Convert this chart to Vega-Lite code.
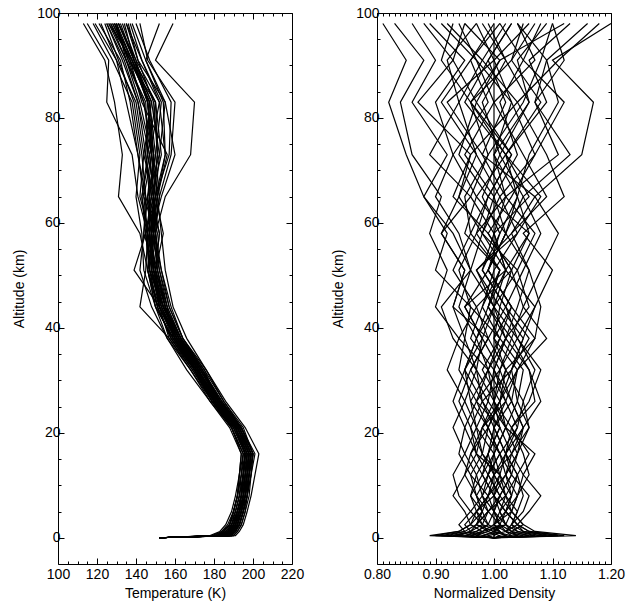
{
"$schema": "https://vega.github.io/schema/vega-lite/v6.json",
"padding": {"left": 12, "top": 6, "right": 5, "bottom": 5},
"background": "white",
"config": {"view": {"stroke": null}, "font": "Liberation Sans",
 "axis": {"domainColor": "black", "domainWidth": 1, "tickColor": "black", "tickWidth": 1, "labelColor": "black", "titleColor": "black", "labelFont": "Liberation Sans", "titleFont": "Liberation Sans", "labelFontSize": 14, "titleFontSize": 14, "titleFontWeight": "normal", "grid": false, "labelOverlap": false, "labelFlush": false}},
"data": {"values": [
{"p":1,"a":0,"t":152,"d":1},{"p":1,"a":0.4,"t":186,"d":1},{"p":1,"a":1.2,"t":188,"d":1},{"p":1,"a":2.5,"t":191,"d":1},{"p":1,"a":5,"t":193,"d":1},{"p":1,"a":8,"t":195,"d":1},{"p":1,"a":12,"t":196,"d":1},{"p":1,"a":16,"t":198,"d":1},{"p":1,"a":21,"t":192,"d":1},{"p":1,"a":26,"t":181,"d":1},{"p":1,"a":32,"t":172,"d":1},{"p":1,"a":38,"t":161,"d":1},{"p":1,"a":44,"t":153,"d":1},{"p":1,"a":51,"t":148,"d":1},{"p":1,"a":58,"t":147,"d":1},{"p":1,"a":65,"t":147,"d":1},{"p":1,"a":73,"t":149,"d":1},{"p":1,"a":83,"t":147,"d":1},{"p":1,"a":91,"t":137,"d":1},{"p":1,"a":98,"t":128,"d":1},
{"p":2,"a":0,"t":152,"d":1},{"p":2,"a":0.4,"t":189,"d":1.06},{"p":2,"a":1.2,"t":191,"d":1.03},{"p":2,"a":2.5,"t":193,"d":1.02},{"p":2,"a":5,"t":195,"d":1.01},{"p":2,"a":8,"t":197,"d":1.03},{"p":2,"a":12,"t":198,"d":1.04},{"p":2,"a":16,"t":200,"d":1.02},{"p":2,"a":21,"t":194,"d":1.00},{"p":2,"a":26,"t":183,"d":0.98},{"p":2,"a":32,"t":174,"d":1.03},{"p":2,"a":38,"t":162,"d":1.05},{"p":2,"a":44,"t":155,"d":1.01},{"p":2,"a":51,"t":151,"d":0.97},{"p":2,"a":58,"t":146,"d":1.04},{"p":2,"a":65,"t":150,"d":1.08},{"p":2,"a":73,"t":155,"d":1.02},{"p":2,"a":83,"t":152,"d":0.96},{"p":2,"a":91,"t":140,"d":1.03},{"p":2,"a":98,"t":131,"d":1.07},
{"p":3,"a":0,"t":152,"d":1},{"p":3,"a":0.4,"t":181,"d":0.93},{"p":3,"a":1.2,"t":185,"d":0.96},{"p":3,"a":2.5,"t":188,"d":0.97},{"p":3,"a":5,"t":190,"d":0.99},{"p":3,"a":8,"t":192,"d":0.97},{"p":3,"a":12,"t":194,"d":0.95},{"p":3,"a":16,"t":195,"d":0.96},{"p":3,"a":21,"t":189,"d":0.98},{"p":3,"a":26,"t":179,"d":1.02},{"p":3,"a":32,"t":170,"d":0.99},{"p":3,"a":38,"t":158,"d":0.94},{"p":3,"a":44,"t":151,"d":0.97},{"p":3,"a":51,"t":146,"d":1.03},{"p":3,"a":58,"t":150,"d":0.99},{"p":3,"a":65,"t":144,"d":0.93},{"p":3,"a":73,"t":141,"d":0.96},{"p":3,"a":83,"t":137,"d":1.04},{"p":3,"a":91,"t":132,"d":0.98},{"p":3,"a":98,"t":121,"d":0.92},
{"p":4,"a":0,"t":152,"d":1},{"p":4,"a":0.4,"t":187,"d":1.02},{"p":4,"a":1.2,"t":189,"d":1.01},{"p":4,"a":2.5,"t":192,"d":0.98},{"p":4,"a":5,"t":194,"d":0.97},{"p":4,"a":8,"t":196,"d":0.99},{"p":4,"a":12,"t":197,"d":1.02},{"p":4,"a":16,"t":199,"d":1.04},{"p":4,"a":21,"t":193,"d":1.05},{"p":4,"a":26,"t":183,"d":1.03},{"p":4,"a":32,"t":171,"d":1.00},{"p":4,"a":38,"t":159,"d":1.02},{"p":4,"a":44,"t":156,"d":1.06},{"p":4,"a":51,"t":150,"d":1.04},{"p":4,"a":58,"t":152,"d":0.98},{"p":4,"a":65,"t":148,"d":1.01},{"p":4,"a":73,"t":153,"d":1.07},{"p":4,"a":83,"t":150,"d":1.12},{"p":4,"a":91,"t":139,"d":1.05},{"p":4,"a":98,"t":134,"d":1.01},
{"p":5,"a":0,"t":152,"d":1},{"p":5,"a":0.4,"t":178,"d":0.90},{"p":5,"a":1.2,"t":183,"d":0.94},{"p":5,"a":2.5,"t":186,"d":0.96},{"p":5,"a":5,"t":189,"d":0.95},{"p":5,"a":8,"t":191,"d":0.93},{"p":5,"a":12,"t":193,"d":0.95},{"p":5,"a":16,"t":194,"d":0.97},{"p":5,"a":21,"t":189,"d":0.96},{"p":5,"a":26,"t":180,"d":0.94},{"p":5,"a":32,"t":169,"d":0.96},{"p":5,"a":38,"t":157,"d":0.99},{"p":5,"a":44,"t":152,"d":0.93},{"p":5,"a":51,"t":139,"d":0.95},{"p":5,"a":58,"t":145,"d":0.91},{"p":5,"a":65,"t":143,"d":0.96},{"p":5,"a":73,"t":146,"d":0.89},{"p":5,"a":83,"t":145,"d":0.94},{"p":5,"a":91,"t":135,"d":0.92},{"p":5,"a":98,"t":126,"d":0.97},
{"p":6,"a":0,"t":152,"d":1},{"p":6,"a":0.4,"t":191,"d":1.14},{"p":6,"a":1.2,"t":193,"d":1.07},{"p":6,"a":2.5,"t":195,"d":1.05},{"p":6,"a":5,"t":197,"d":1.03},{"p":6,"a":8,"t":199,"d":1.04},{"p":6,"a":12,"t":201,"d":1.06},{"p":6,"a":16,"t":203,"d":1.05},{"p":6,"a":21,"t":196,"d":1.03},{"p":6,"a":26,"t":186,"d":1.06},{"p":6,"a":32,"t":176,"d":1.08},{"p":6,"a":38,"t":164,"d":1.04},{"p":6,"a":44,"t":157,"d":1.07},{"p":6,"a":51,"t":153,"d":1.10},{"p":6,"a":58,"t":149,"d":1.05},{"p":6,"a":65,"t":152,"d":1.12},{"p":6,"a":73,"t":158,"d":1.09},{"p":6,"a":83,"t":160,"d":1.04},{"p":6,"a":91,"t":146,"d":1.11},{"p":6,"a":98,"t":142,"d":1.18},
{"p":7,"a":0,"t":152,"d":1},{"p":7,"a":0.4,"t":185,"d":0.97},{"p":7,"a":1.2,"t":188,"d":0.99},{"p":7,"a":2.5,"t":190,"d":1.01},{"p":7,"a":5,"t":192,"d":1.02},{"p":7,"a":8,"t":194,"d":1.00},{"p":7,"a":12,"t":195,"d":0.98},{"p":7,"a":16,"t":196,"d":0.99},{"p":7,"a":21,"t":190,"d":1.01},{"p":7,"a":26,"t":180,"d":0.97},{"p":7,"a":32,"t":172,"d":1.01},{"p":7,"a":38,"t":162,"d":0.98},{"p":7,"a":44,"t":154,"d":0.95},{"p":7,"a":51,"t":149,"d":1.02},{"p":7,"a":58,"t":151,"d":1.06},{"p":7,"a":65,"t":147,"d":0.99},{"p":7,"a":73,"t":145,"d":1.03},{"p":7,"a":83,"t":141,"d":0.97},{"p":7,"a":91,"t":133,"d":1.01},{"p":7,"a":98,"t":125,"d":0.95},
{"p":8,"a":0,"t":152,"d":1},{"p":8,"a":0.4,"t":183,"d":1.09},{"p":8,"a":1.2,"t":187,"d":1.05},{"p":8,"a":2.5,"t":190,"d":1.03},{"p":8,"a":5,"t":193,"d":1.05},{"p":8,"a":8,"t":195,"d":1.06},{"p":8,"a":12,"t":197,"d":1.03},{"p":8,"a":16,"t":198,"d":1.01},{"p":8,"a":21,"t":192,"d":1.04},{"p":8,"a":26,"t":182,"d":1.05},{"p":8,"a":32,"t":173,"d":1.02},{"p":8,"a":38,"t":163,"d":1.07},{"p":8,"a":44,"t":155,"d":1.03},{"p":8,"a":51,"t":150,"d":0.99},{"p":8,"a":58,"t":154,"d":1.02},{"p":8,"a":65,"t":150,"d":1.05},{"p":8,"a":73,"t":152,"d":1.13},{"p":8,"a":83,"t":155,"d":1.07},{"p":8,"a":91,"t":141,"d":1.09},{"p":8,"a":98,"t":136,"d":1.04},
{"p":9,"a":0,"t":152,"d":1},{"p":9,"a":0.4,"t":188,"d":0.95},{"p":9,"a":1.2,"t":190,"d":0.97},{"p":9,"a":2.5,"t":192,"d":0.99},{"p":9,"a":5,"t":194,"d":1.00},{"p":9,"a":8,"t":195,"d":1.01},{"p":9,"a":12,"t":196,"d":0.99},{"p":9,"a":16,"t":197,"d":0.97},{"p":9,"a":21,"t":191,"d":0.98},{"p":9,"a":26,"t":180,"d":1.00},{"p":9,"a":32,"t":170,"d":0.97},{"p":9,"a":38,"t":159,"d":0.93},{"p":9,"a":44,"t":150,"d":0.91},{"p":9,"a":51,"t":144,"d":0.96},{"p":9,"a":58,"t":143,"d":0.93},{"p":9,"a":65,"t":140,"d":0.88},{"p":9,"a":73,"t":142,"d":0.92},{"p":9,"a":83,"t":138,"d":0.86},{"p":9,"a":91,"t":128,"d":0.90},{"p":9,"a":98,"t":118,"d":0.86},
{"p":10,"a":0,"t":152,"d":1},{"p":10,"a":0.4,"t":184,"d":1.04},{"p":10,"a":1.2,"t":187,"d":1.02},{"p":10,"a":2.5,"t":189,"d":1.03},{"p":10,"a":5,"t":191,"d":1.04},{"p":10,"a":8,"t":193,"d":1.02},{"p":10,"a":12,"t":195,"d":1.00},{"p":10,"a":16,"t":196,"d":1.03},{"p":10,"a":21,"t":191,"d":1.06},{"p":10,"a":26,"t":181,"d":1.04},{"p":10,"a":32,"t":171,"d":1.05},{"p":10,"a":38,"t":161,"d":1.01},{"p":10,"a":44,"t":154,"d":0.98},{"p":10,"a":51,"t":149,"d":1.01},{"p":10,"a":58,"t":147,"d":0.97},{"p":10,"a":65,"t":146,"d":1.02},{"p":10,"a":73,"t":150,"d":0.98},{"p":10,"a":83,"t":147,"d":1.02},{"p":10,"a":91,"t":138,"d":0.99},{"p":10,"a":98,"t":130,"d":1.03},
{"p":11,"a":0,"t":152,"d":1},{"p":11,"a":0.4,"t":190,"d":1.11},{"p":11,"a":1.2,"t":192,"d":1.06},{"p":11,"a":2.5,"t":194,"d":1.04},{"p":11,"a":5,"t":196,"d":1.06},{"p":11,"a":8,"t":198,"d":1.08},{"p":11,"a":12,"t":199,"d":1.05},{"p":11,"a":16,"t":201,"d":1.07},{"p":11,"a":21,"t":194,"d":1.02},{"p":11,"a":26,"t":184,"d":1.01},{"p":11,"a":32,"t":174,"d":1.04},{"p":11,"a":38,"t":163,"d":1.09},{"p":11,"a":44,"t":156,"d":1.05},{"p":11,"a":51,"t":152,"d":1.08},{"p":11,"a":58,"t":150,"d":1.11},{"p":11,"a":65,"t":155,"d":1.07},{"p":11,"a":73,"t":168,"d":1.15},{"p":11,"a":83,"t":170,"d":1.17},{"p":11,"a":91,"t":150,"d":1.10},{"p":11,"a":98,"t":159,"d":1.20},
{"p":12,"a":0,"t":152,"d":1},{"p":12,"a":0.4,"t":180,"d":0.92},{"p":12,"a":1.2,"t":184,"d":0.95},{"p":12,"a":2.5,"t":187,"d":0.94},{"p":12,"a":5,"t":190,"d":0.96},{"p":12,"a":8,"t":192,"d":0.94},{"p":12,"a":12,"t":193,"d":0.93},{"p":12,"a":16,"t":194,"d":0.95},{"p":12,"a":21,"t":188,"d":0.93},{"p":12,"a":26,"t":178,"d":0.95},{"p":12,"a":32,"t":168,"d":0.92},{"p":12,"a":38,"t":157,"d":0.94},{"p":12,"a":44,"t":142,"d":0.90},{"p":12,"a":51,"t":145,"d":0.92},{"p":12,"a":58,"t":146,"d":0.89},{"p":12,"a":65,"t":141,"d":0.91},{"p":12,"a":73,"t":138,"d":0.86},{"p":12,"a":83,"t":125,"d":0.84},{"p":12,"a":91,"t":126,"d":0.88},{"p":12,"a":98,"t":115,"d":0.83},
{"p":13,"a":0,"t":152,"d":1},{"p":13,"a":0.4,"t":186,"d":1.00},{"p":13,"a":1.2,"t":189,"d":1.01},{"p":13,"a":2.5,"t":191,"d":0.99},{"p":13,"a":5,"t":193,"d":0.98},{"p":13,"a":8,"t":196,"d":0.97},{"p":13,"a":12,"t":197,"d":0.99},{"p":13,"a":16,"t":198,"d":1.00},{"p":13,"a":21,"t":192,"d":1.02},{"p":13,"a":26,"t":182,"d":0.99},{"p":13,"a":32,"t":171,"d":0.96},{"p":13,"a":38,"t":160,"d":0.99},{"p":13,"a":44,"t":152,"d":1.02},{"p":13,"a":51,"t":148,"d":0.98},{"p":13,"a":58,"t":149,"d":1.00},{"p":13,"a":65,"t":151,"d":0.96},{"p":13,"a":73,"t":156,"d":0.99},{"p":13,"a":83,"t":143,"d":1.05},{"p":13,"a":91,"t":137,"d":1.08},{"p":13,"a":98,"t":127,"d":1.10},
{"p":14,"a":0,"t":152,"d":1},{"p":14,"a":0.4,"t":182,"d":1.06},{"p":14,"a":1.2,"t":186,"d":1.03},{"p":14,"a":2.5,"t":189,"d":1.05},{"p":14,"a":5,"t":192,"d":1.03},{"p":14,"a":8,"t":194,"d":1.02},{"p":14,"a":12,"t":196,"d":1.04},{"p":14,"a":16,"t":197,"d":1.06},{"p":14,"a":21,"t":192,"d":1.03},{"p":14,"a":26,"t":182,"d":1.07},{"p":14,"a":32,"t":175,"d":1.06},{"p":14,"a":38,"t":163,"d":1.03},{"p":14,"a":44,"t":154,"d":1.05},{"p":14,"a":51,"t":149,"d":1.03},{"p":14,"a":58,"t":148,"d":1.06},{"p":14,"a":65,"t":149,"d":1.04},{"p":14,"a":73,"t":151,"d":1.02},{"p":14,"a":83,"t":150,"d":1.09},{"p":14,"a":91,"t":139,"d":1.06},{"p":14,"a":98,"t":131,"d":1.13},
{"p":15,"a":0,"t":152,"d":1},{"p":15,"a":0.4,"t":189,"d":0.94},{"p":15,"a":1.2,"t":191,"d":0.96},{"p":15,"a":2.5,"t":193,"d":0.98},{"p":15,"a":5,"t":195,"d":0.96},{"p":15,"a":8,"t":196,"d":0.98},{"p":15,"a":12,"t":198,"d":0.97},{"p":15,"a":16,"t":199,"d":0.95},{"p":15,"a":21,"t":193,"d":0.97},{"p":15,"a":26,"t":183,"d":0.96},{"p":15,"a":32,"t":173,"d":0.99},{"p":15,"a":38,"t":162,"d":1.01},{"p":15,"a":44,"t":154,"d":0.96},{"p":15,"a":51,"t":147,"d":0.94},{"p":15,"a":58,"t":146,"d":0.97},{"p":15,"a":65,"t":144,"d":0.99},{"p":15,"a":73,"t":148,"d":0.94},{"p":15,"a":83,"t":144,"d":0.97},{"p":15,"a":91,"t":136,"d":0.93},{"p":15,"a":98,"t":129,"d":0.95},
{"p":16,"a":0,"t":152,"d":1},{"p":16,"a":0.4,"t":187,"d":1.08},{"p":16,"a":1.2,"t":189,"d":1.04},{"p":16,"a":2.5,"t":191,"d":1.02},{"p":16,"a":5,"t":193,"d":1.01},{"p":16,"a":8,"t":194,"d":1.00},{"p":16,"a":12,"t":195,"d":1.02},{"p":16,"a":16,"t":196,"d":1.01},{"p":16,"a":21,"t":190,"d":0.99},{"p":16,"a":26,"t":179,"d":1.01},{"p":16,"a":32,"t":168,"d":1.03},{"p":16,"a":38,"t":156,"d":1.06},{"p":16,"a":44,"t":148,"d":1.02},{"p":16,"a":51,"t":142,"d":1.05},{"p":16,"a":58,"t":144,"d":1.08},{"p":16,"a":65,"t":146,"d":1.05},{"p":16,"a":73,"t":152,"d":1.01},{"p":16,"a":83,"t":148,"d":1.06},{"p":16,"a":91,"t":139,"d":1.04},{"p":16,"a":98,"t":131,"d":1.09},
{"p":17,"a":0,"t":152,"d":1},{"p":17,"a":0.4,"t":185,"d":0.96},{"p":17,"a":1.2,"t":188,"d":0.98},{"p":17,"a":2.5,"t":191,"d":1.00},{"p":17,"a":5,"t":193,"d":1.02},{"p":17,"a":8,"t":195,"d":1.03},{"p":17,"a":12,"t":197,"d":1.01},{"p":17,"a":16,"t":198,"d":0.98},{"p":17,"a":21,"t":193,"d":0.96},{"p":17,"a":26,"t":184,"d":0.98},{"p":17,"a":32,"t":174,"d":0.95},{"p":17,"a":38,"t":163,"d":0.97},{"p":17,"a":44,"t":156,"d":0.99},{"p":17,"a":51,"t":151,"d":1.01},{"p":17,"a":58,"t":150,"d":0.95},{"p":17,"a":65,"t":149,"d":0.97},{"p":17,"a":73,"t":151,"d":0.93},{"p":17,"a":83,"t":149,"d":0.99},{"p":17,"a":91,"t":141,"d":0.96},{"p":17,"a":98,"t":135,"d":1.00},
{"p":18,"a":0,"t":152,"d":1},{"p":18,"a":0.4,"t":183,"d":1.03},{"p":18,"a":1.2,"t":186,"d":1.00},{"p":18,"a":2.5,"t":189,"d":1.01},{"p":18,"a":5,"t":191,"d":0.99},{"p":18,"a":8,"t":193,"d":1.01},{"p":18,"a":12,"t":194,"d":1.03},{"p":18,"a":16,"t":196,"d":1.04},{"p":18,"a":21,"t":190,"d":1.02},{"p":18,"a":26,"t":180,"d":1.00},{"p":18,"a":32,"t":170,"d":1.02},{"p":18,"a":38,"t":160,"d":1.00},{"p":18,"a":44,"t":152,"d":1.03},{"p":18,"a":51,"t":148,"d":0.99},{"p":18,"a":58,"t":145,"d":1.02},{"p":18,"a":65,"t":149,"d":1.00},{"p":18,"a":73,"t":147,"d":1.04},{"p":18,"a":83,"t":152,"d":1.01},{"p":18,"a":91,"t":143,"d":1.05},{"p":18,"a":98,"t":137,"d":1.08},
{"p":19,"a":0,"t":152,"d":1},{"p":19,"a":0.4,"t":188,"d":0.98},{"p":19,"a":1.2,"t":191,"d":1.00},{"p":19,"a":2.5,"t":193,"d":0.97},{"p":19,"a":5,"t":195,"d":0.98},{"p":19,"a":8,"t":197,"d":0.96},{"p":19,"a":12,"t":199,"d":0.97},{"p":19,"a":16,"t":200,"d":0.99},{"p":19,"a":21,"t":195,"d":1.00},{"p":19,"a":26,"t":185,"d":1.03},{"p":19,"a":32,"t":175,"d":1.01},{"p":19,"a":38,"t":164,"d":1.04},{"p":19,"a":44,"t":157,"d":1.00},{"p":19,"a":51,"t":152,"d":0.97},{"p":19,"a":58,"t":148,"d":1.03},{"p":19,"a":65,"t":153,"d":1.07},{"p":19,"a":73,"t":160,"d":0.98},{"p":19,"a":83,"t":155,"d":0.92},{"p":19,"a":91,"t":145,"d":1.00},{"p":19,"a":98,"t":138,"d":0.97},
{"p":20,"a":0,"t":152,"d":1},{"p":20,"a":0.4,"t":179,"d":0.91},{"p":20,"a":1.2,"t":184,"d":0.95},{"p":20,"a":2.5,"t":188,"d":0.97},{"p":20,"a":5,"t":190,"d":0.98},{"p":20,"a":8,"t":192,"d":0.99},{"p":20,"a":12,"t":194,"d":0.96},{"p":20,"a":16,"t":195,"d":0.94},{"p":20,"a":21,"t":189,"d":0.95},{"p":20,"a":26,"t":178,"d":0.97},{"p":20,"a":32,"t":166,"d":0.94},{"p":20,"a":38,"t":156,"d":0.95},{"p":20,"a":44,"t":150,"d":0.96},{"p":20,"a":51,"t":146,"d":0.90},{"p":20,"a":58,"t":142,"d":0.92},{"p":20,"a":65,"t":131,"d":0.88},{"p":20,"a":73,"t":133,"d":0.85},{"p":20,"a":83,"t":129,"d":0.82},{"p":20,"a":91,"t":124,"d":0.85},{"p":20,"a":98,"t":113,"d":0.81},
{"p":21,"a":0,"t":152,"d":1},{"p":21,"a":0.4,"t":186,"d":1.05},{"p":21,"a":1.2,"t":189,"d":1.02},{"p":21,"a":2.5,"t":192,"d":1.00},{"p":21,"a":5,"t":194,"d":1.01},{"p":21,"a":8,"t":196,"d":1.02},{"p":21,"a":12,"t":198,"d":1.01},{"p":21,"a":16,"t":199,"d":1.02},{"p":21,"a":21,"t":193,"d":1.04},{"p":21,"a":26,"t":182,"d":1.02},{"p":21,"a":32,"t":172,"d":1.00},{"p":21,"a":38,"t":161,"d":1.02},{"p":21,"a":44,"t":153,"d":1.04},{"p":21,"a":51,"t":150,"d":1.06},{"p":21,"a":58,"t":152,"d":1.03},{"p":21,"a":65,"t":148,"d":1.09},{"p":21,"a":73,"t":149,"d":1.05},{"p":21,"a":83,"t":146,"d":1.00},{"p":21,"a":91,"t":138,"d":1.07},{"p":21,"a":98,"t":126,"d":1.04},
{"p":22,"a":0,"t":152,"d":1},{"p":22,"a":0.4,"t":184,"d":0.99},{"p":22,"a":1.2,"t":188,"d":1.02},{"p":22,"a":2.5,"t":190,"d":1.01},{"p":22,"a":5,"t":192,"d":1.00},{"p":22,"a":8,"t":194,"d":0.99},{"p":22,"a":12,"t":196,"d":1.00},{"p":22,"a":16,"t":197,"d":0.98},{"p":22,"a":21,"t":191,"d":0.97},{"p":22,"a":26,"t":180,"d":0.99},{"p":22,"a":32,"t":171,"d":1.00},{"p":22,"a":38,"t":160,"d":0.96},{"p":22,"a":44,"t":153,"d":0.98},{"p":22,"a":51,"t":147,"d":1.00},{"p":22,"a":58,"t":145,"d":1.04},{"p":22,"a":65,"t":150,"d":1.01},{"p":22,"a":73,"t":148,"d":0.97},{"p":22,"a":83,"t":142,"d":0.94},{"p":22,"a":91,"t":135,"d":0.98},{"p":22,"a":98,"t":130,"d":1.02},
{"p":23,"a":0,"t":152,"d":1},{"p":23,"a":0.4,"t":190,"d":1.12},{"p":23,"a":1.2,"t":192,"d":1.06},{"p":23,"a":2.5,"t":194,"d":1.04},{"p":23,"a":5,"t":196,"d":1.02},{"p":23,"a":8,"t":197,"d":1.03},{"p":23,"a":12,"t":198,"d":1.02},{"p":23,"a":16,"t":199,"d":1.03},{"p":23,"a":21,"t":194,"d":1.05},{"p":23,"a":26,"t":185,"d":1.03},{"p":23,"a":32,"t":176,"d":1.04},{"p":23,"a":38,"t":166,"d":1.07},{"p":23,"a":44,"t":159,"d":1.08},{"p":23,"a":51,"t":155,"d":1.06},{"p":23,"a":58,"t":153,"d":1.02},{"p":23,"a":65,"t":151,"d":1.04},{"p":23,"a":73,"t":155,"d":1.06},{"p":23,"a":83,"t":154,"d":1.11},{"p":23,"a":91,"t":145,"d":1.09},{"p":23,"a":98,"t":152,"d":1.16},
{"p":24,"a":0,"t":152,"d":1},{"p":24,"a":0.4,"t":185,"d":0.95},{"p":24,"a":1.2,"t":187,"d":0.98},{"p":24,"a":2.5,"t":190,"d":0.96},{"p":24,"a":5,"t":192,"d":0.97},{"p":24,"a":8,"t":194,"d":1.00},{"p":24,"a":12,"t":195,"d":0.98},{"p":24,"a":16,"t":196,"d":0.96},{"p":24,"a":21,"t":191,"d":0.99},{"p":24,"a":26,"t":181,"d":0.96},{"p":24,"a":32,"t":172,"d":0.95},{"p":24,"a":38,"t":161,"d":0.97},{"p":24,"a":44,"t":155,"d":0.94},{"p":24,"a":51,"t":149,"d":0.96},{"p":24,"a":58,"t":147,"d":0.94},{"p":24,"a":65,"t":142,"d":0.90},{"p":24,"a":73,"t":144,"d":0.93},{"p":24,"a":83,"t":140,"d":0.90},{"p":24,"a":91,"t":130,"d":0.95},{"p":24,"a":98,"t":122,"d":0.89},
{"p":25,"a":0,"t":152,"d":1},{"p":25,"a":0.4,"t":187,"d":1.02},{"p":25,"a":1.2,"t":190,"d":1.00},{"p":25,"a":2.5,"t":192,"d":1.02},{"p":25,"a":5,"t":194,"d":1.03},{"p":25,"a":8,"t":196,"d":1.01},{"p":25,"a":12,"t":197,"d":1.03},{"p":25,"a":16,"t":198,"d":1.02},{"p":25,"a":21,"t":192,"d":1.00},{"p":25,"a":26,"t":182,"d":1.02},{"p":25,"a":32,"t":171,"d":1.04},{"p":25,"a":38,"t":159,"d":1.00},{"p":25,"a":44,"t":150,"d":1.01},{"p":25,"a":51,"t":146,"d":1.03},{"p":25,"a":58,"t":149,"d":0.99},{"p":25,"a":65,"t":146,"d":1.03},{"p":25,"a":73,"t":148,"d":1.07},{"p":25,"a":83,"t":146,"d":1.03},{"p":25,"a":91,"t":140,"d":1.00},{"p":25,"a":98,"t":133,"d":1.06},
{"p":26,"a":0,"t":152,"d":1},{"p":26,"a":0.4,"t":182,"d":0.93},{"p":26,"a":1.2,"t":185,"d":0.97},{"p":26,"a":2.5,"t":188,"d":0.99},{"p":26,"a":5,"t":190,"d":0.97},{"p":26,"a":8,"t":192,"d":0.96},{"p":26,"a":12,"t":193,"d":0.98},{"p":26,"a":16,"t":195,"d":1.00},{"p":26,"a":21,"t":189,"d":0.97},{"p":26,"a":26,"t":179,"d":0.95},{"p":26,"a":32,"t":170,"d":0.97},{"p":26,"a":38,"t":160,"d":0.95},{"p":26,"a":44,"t":155,"d":0.93},{"p":26,"a":51,"t":150,"d":0.95},{"p":26,"a":58,"t":144,"d":0.91},{"p":26,"a":65,"t":145,"d":0.94},{"p":26,"a":73,"t":141,"d":0.96},{"p":26,"a":83,"t":135,"d":0.87},{"p":26,"a":91,"t":130,"d":0.93},{"p":26,"a":98,"t":119,"d":0.88},
{"p":27,"a":0,"t":152,"d":1},{"p":27,"a":0.4,"t":188,"d":1.07},{"p":27,"a":1.2,"t":190,"d":1.04},{"p":27,"a":2.5,"t":193,"d":1.03},{"p":27,"a":5,"t":195,"d":1.04},{"p":27,"a":8,"t":197,"d":1.05},{"p":27,"a":12,"t":198,"d":1.04},{"p":27,"a":16,"t":200,"d":1.02},{"p":27,"a":21,"t":194,"d":1.05},{"p":27,"a":26,"t":183,"d":1.08},{"p":27,"a":32,"t":173,"d":1.06},{"p":27,"a":38,"t":162,"d":1.02},{"p":27,"a":44,"t":154,"d":1.00},{"p":27,"a":51,"t":149,"d":1.04},{"p":27,"a":58,"t":148,"d":1.07},{"p":27,"a":65,"t":150,"d":1.02},{"p":27,"a":73,"t":146,"d":1.11},{"p":27,"a":83,"t":150,"d":1.07},{"p":27,"a":91,"t":136,"d":1.12},{"p":27,"a":98,"t":130,"d":1.10},
{"p":28,"a":0,"t":152,"d":1},{"p":28,"a":0.4,"t":186,"d":0.97},{"p":28,"a":1.2,"t":189,"d":0.98},{"p":28,"a":2.5,"t":191,"d":1.02},{"p":28,"a":5,"t":193,"d":1.00},{"p":28,"a":8,"t":195,"d":1.01},{"p":28,"a":12,"t":196,"d":0.99},{"p":28,"a":16,"t":197,"d":1.01},{"p":28,"a":21,"t":191,"d":0.98},{"p":28,"a":26,"t":181,"d":1.01},{"p":28,"a":32,"t":171,"d":0.98},{"p":28,"a":38,"t":161,"d":1.01},{"p":28,"a":44,"t":153,"d":1.03},{"p":28,"a":51,"t":148,"d":0.99},{"p":28,"a":58,"t":148,"d":1.01},{"p":28,"a":65,"t":147,"d":0.98},{"p":28,"a":73,"t":149,"d":1.01},{"p":28,"a":83,"t":146,"d":0.98},{"p":28,"a":91,"t":138,"d":1.02},{"p":28,"a":98,"t":129,"d":0.99},
{"p":29,"a":0,"t":152,"d":1},{"p":29,"a":0.4,"t":184,"d":1.10},{"p":29,"a":1.2,"t":187,"d":1.05},{"p":29,"a":2.5,"t":190,"d":1.04},{"p":29,"a":5,"t":192,"d":1.02},{"p":29,"a":8,"t":194,"d":1.04},{"p":29,"a":12,"t":195,"d":1.05},{"p":29,"a":16,"t":196,"d":1.03},{"p":29,"a":21,"t":190,"d":1.01},{"p":29,"a":26,"t":179,"d":1.00},{"p":29,"a":32,"t":169,"d":1.01},{"p":29,"a":38,"t":158,"d":1.03},{"p":29,"a":44,"t":151,"d":0.99},{"p":29,"a":51,"t":147,"d":1.02},{"p":29,"a":58,"t":145,"d":0.98},{"p":29,"a":65,"t":148,"d":0.94},{"p":29,"a":73,"t":145,"d":0.97},{"p":29,"a":83,"t":147,"d":0.91},{"p":29,"a":91,"t":137,"d":0.96},{"p":29,"a":98,"t":128,"d":1.01},
{"p":30,"a":0,"t":152,"d":1},{"p":30,"a":0.4,"t":187,"d":0.96},{"p":30,"a":1.2,"t":190,"d":0.99},{"p":30,"a":2.5,"t":192,"d":0.98},{"p":30,"a":5,"t":194,"d":0.99},{"p":30,"a":8,"t":196,"d":0.98},{"p":30,"a":12,"t":198,"d":1.00},{"p":30,"a":16,"t":199,"d":0.99},{"p":30,"a":21,"t":193,"d":1.01},{"p":30,"a":26,"t":183,"d":0.98},{"p":30,"a":32,"t":174,"d":0.97},{"p":30,"a":38,"t":164,"d":0.98},{"p":30,"a":44,"t":158,"d":1.00},{"p":30,"a":51,"t":153,"d":1.02},{"p":30,"a":58,"t":150,"d":1.00},{"p":30,"a":65,"t":152,"d":1.02},{"p":30,"a":73,"t":150,"d":1.00},{"p":30,"a":83,"t":153,"d":1.03},{"p":30,"a":91,"t":143,"d":0.97},{"p":30,"a":98,"t":135,"d":0.94},
{"p":31,"a":0,"t":152,"d":1},{"p":31,"a":0.4,"t":181,"d":0.89},{"p":31,"a":1.2,"t":185,"d":0.94},{"p":31,"a":2.5,"t":188,"d":0.96},{"p":31,"a":5,"t":191,"d":0.98},{"p":31,"a":8,"t":193,"d":0.97},{"p":31,"a":12,"t":195,"d":0.96},{"p":31,"a":16,"t":196,"d":0.98},{"p":31,"a":21,"t":191,"d":0.99},{"p":31,"a":26,"t":181,"d":1.01},{"p":31,"a":32,"t":172,"d":1.02},{"p":31,"a":38,"t":162,"d":0.99},{"p":31,"a":44,"t":154,"d":0.97},{"p":31,"a":51,"t":148,"d":0.93},{"p":31,"a":58,"t":150,"d":0.96},{"p":31,"a":65,"t":145,"d":0.95},{"p":31,"a":73,"t":143,"d":0.99},{"p":31,"a":83,"t":139,"d":0.96},{"p":31,"a":91,"t":131,"d":0.91},{"p":31,"a":98,"t":124,"d":0.93},
{"p":32,"a":0,"t":152,"d":1},{"p":32,"a":0.4,"t":189,"d":1.03},{"p":32,"a":1.2,"t":191,"d":1.02},{"p":32,"a":2.5,"t":193,"d":1.04},{"p":32,"a":5,"t":195,"d":1.02},{"p":32,"a":8,"t":197,"d":1.00},{"p":32,"a":12,"t":199,"d":1.01},{"p":32,"a":16,"t":200,"d":1.00},{"p":32,"a":21,"t":194,"d":1.02},{"p":32,"a":26,"t":184,"d":1.04},{"p":32,"a":32,"t":173,"d":1.03},{"p":32,"a":38,"t":161,"d":1.05},{"p":32,"a":44,"t":152,"d":1.07},{"p":32,"a":51,"t":146,"d":1.02},{"p":32,"a":58,"t":147,"d":1.00},{"p":32,"a":65,"t":150,"d":1.06},{"p":32,"a":73,"t":157,"d":1.02},{"p":32,"a":83,"t":158,"d":1.08},{"p":32,"a":91,"t":147,"d":1.03},{"p":32,"a":98,"t":140,"d":1.05},
{"p":33,"a":0,"t":152,"d":1},{"p":33,"a":0.4,"t":186,"d":1.01},{"p":33,"a":1.2,"t":188,"d":0.99},{"p":33,"a":2.5,"t":190,"d":0.97},{"p":33,"a":5,"t":193,"d":0.99},{"p":33,"a":8,"t":195,"d":1.02},{"p":33,"a":12,"t":196,"d":1.00},{"p":33,"a":16,"t":198,"d":1.02},{"p":33,"a":21,"t":192,"d":1.03},{"p":33,"a":26,"t":182,"d":1.00},{"p":33,"a":32,"t":172,"d":0.99},{"p":33,"a":38,"t":160,"d":0.97},{"p":33,"a":44,"t":152,"d":1.00},{"p":33,"a":51,"t":149,"d":0.96},{"p":33,"a":58,"t":146,"d":0.98},{"p":33,"a":65,"t":143,"d":1.00},{"p":33,"a":73,"t":147,"d":0.95},{"p":33,"a":83,"t":141,"d":1.00},{"p":33,"a":91,"t":134,"d":0.97},{"p":33,"a":98,"t":125,"d":0.91},
{"p":34,"a":0,"t":152,"d":1},{"p":34,"a":0.4,"t":183,"d":0.98},{"p":34,"a":1.2,"t":187,"d":1.01},{"p":34,"a":2.5,"t":189,"d":1.00},{"p":34,"a":5,"t":192,"d":1.03},{"p":34,"a":8,"t":194,"d":1.04},{"p":34,"a":12,"t":195,"d":1.02},{"p":34,"a":16,"t":197,"d":1.04},{"p":34,"a":21,"t":191,"d":1.06},{"p":34,"a":26,"t":181,"d":1.05},{"p":34,"a":32,"t":170,"d":1.07},{"p":34,"a":38,"t":159,"d":1.04},{"p":34,"a":44,"t":152,"d":1.02},{"p":34,"a":51,"t":150,"d":0.98},{"p":34,"a":58,"t":147,"d":1.01},{"p":34,"a":65,"t":151,"d":1.04},{"p":34,"a":73,"t":148,"d":1.00},{"p":34,"a":83,"t":146,"d":1.06},{"p":34,"a":91,"t":139,"d":1.02},{"p":34,"a":98,"t":132,"d":0.98},
{"p":35,"a":0,"t":152,"d":1},{"p":35,"a":0.4,"t":185,"d":1.04},{"p":35,"a":1.2,"t":188,"d":1.03},{"p":35,"a":2.5,"t":191,"d":1.01},{"p":35,"a":5,"t":194,"d":1.00},{"p":35,"a":8,"t":196,"d":0.98},{"p":35,"a":12,"t":197,"d":0.99},{"p":35,"a":16,"t":199,"d":1.01},{"p":35,"a":21,"t":193,"d":0.99},{"p":35,"a":26,"t":183,"d":0.97},{"p":35,"a":32,"t":173,"d":0.99},{"p":35,"a":38,"t":163,"d":1.02},{"p":35,"a":44,"t":155,"d":0.99},{"p":35,"a":51,"t":151,"d":1.01},{"p":35,"a":58,"t":149,"d":0.96},{"p":35,"a":65,"t":149,"d":0.99},{"p":35,"a":73,"t":144,"d":1.03},{"p":35,"a":83,"t":148,"d":0.96},{"p":35,"a":91,"t":138,"d":1.01},{"p":35,"a":98,"t":129,"d":1.12},
{"p":36,"a":0,"t":152,"d":1},{"p":36,"a":0.4,"t":188,"d":0.93},{"p":36,"a":1.2,"t":190,"d":0.96},{"p":36,"a":2.5,"t":192,"d":0.95},{"p":36,"a":5,"t":194,"d":0.97},{"p":36,"a":8,"t":195,"d":0.99},{"p":36,"a":12,"t":197,"d":1.01},{"p":36,"a":16,"t":198,"d":0.97},{"p":36,"a":21,"t":192,"d":0.95},{"p":36,"a":26,"t":181,"d":0.93},{"p":36,"a":32,"t":170,"d":0.95},{"p":36,"a":38,"t":158,"d":0.98},{"p":36,"a":44,"t":151,"d":0.95},{"p":36,"a":51,"t":147,"d":0.99},{"p":36,"a":58,"t":148,"d":1.02},{"p":36,"a":65,"t":151,"d":0.97},{"p":36,"a":73,"t":149,"d":1.02},{"p":36,"a":83,"t":144,"d":0.95},{"p":36,"a":91,"t":135,"d":0.99},{"p":36,"a":98,"t":127,"d":1.03}
]},
"spacing": 85,
"bounds": "flush",
"hconcat": [
 {"width": 234, "height": 551,
  "layer": [
   {"mark": {"type": "line", "stroke": "black", "strokeWidth": 1.2},
    "encoding": {
     "x": {"field": "t", "type": "quantitative", "scale": {"domain": [100, 220], "nice": false, "zero": false},
       "axis": {"orient": "bottom", "title": "Temperature (K)", "values": [100,105,110,115,120,125,130,135,140,145,150,155,160,165,170,175,180,185,190,195,200,205,210,215,220], "format": "d",
        "tickSize": {"condition": {"test": "datum.value % 20 === 0", "value": -6}, "value": -3},
        "labelExpr": "datum.value % 20 === 0 ? datum.label : ''", "labelPadding": 9, "titlePadding": 2}},
     "y": {"field": "a", "type": "quantitative", "scale": {"domain": [-5, 100], "nice": false, "zero": false},
       "axis": {"orient": "left", "title": "Altitude (km)", "values": [0,5,10,15,20,25,30,35,40,45,50,55,60,65,70,75,80,85,90,95,100], "format": "d",
        "tickSize": {"condition": {"test": "datum.value % 20 === 0", "value": -6}, "value": -3},
        "labelExpr": "datum.value % 20 === 0 ? datum.label : ''", "labelPadding": 4, "titlePadding": 10}},
     "detail": {"field": "p", "type": "nominal"},
     "order": {"field": "a", "type": "quantitative"}}},
   {"mark": {"type": "line", "strokeOpacity": 0},
    "encoding": {
     "x": {"field": "t", "type": "quantitative", "axis": {"orient": "top", "title": null, "labels": false, "values": [100,105,110,115,120,125,130,135,140,145,150,155,160,165,170,175,180,185,190,195,200,205,210,215,220],
        "tickSize": {"condition": {"test": "datum.value % 20 === 0", "value": -6}, "value": -3}}},
     "y": {"field": "a", "type": "quantitative", "axis": {"orient": "right", "title": null, "labels": false, "values": [0,5,10,15,20,25,30,35,40,45,50,55,60,65,70,75,80,85,90,95,100],
        "tickSize": {"condition": {"test": "datum.value % 20 === 0", "value": -6}, "value": -3}}},
     "detail": {"field": "p", "type": "nominal"},
     "order": {"field": "a", "type": "quantitative"}}}
  ],
  "resolve": {"axis": {"x": "independent", "y": "independent"}}},
 {"width": 234, "height": 551,
  "layer": [
   {"mark": {"type": "line", "stroke": "black", "strokeWidth": 1.2},
    "encoding": {
     "x": {"field": "d", "type": "quantitative", "scale": {"domain": [0.8, 1.2], "nice": false, "zero": false},
       "axis": {"orient": "bottom", "title": "Normalized Density", "values": [0.8,0.81,0.82,0.83,0.84,0.85,0.86,0.87,0.88,0.89,0.9,0.91,0.92,0.93,0.94,0.95,0.96,0.97,0.98,0.99,1.0,1.01,1.02,1.03,1.04,1.05,1.06,1.07,1.08,1.09,1.1,1.11,1.12,1.13,1.14,1.15,1.16,1.17,1.18,1.19,1.2], "format": ".2f",
        "tickSize": {"condition": {"test": "round(datum.value * 100) % 10 === 0", "value": -6}, "value": -3},
        "labelExpr": "round(datum.value * 100) % 10 === 0 ? datum.label : ''", "labelPadding": 9, "titlePadding": 2}},
     "y": {"field": "a", "type": "quantitative", "scale": {"domain": [-5, 100], "nice": false, "zero": false},
       "axis": {"orient": "left", "title": "Altitude (km)", "values": [0,5,10,15,20,25,30,35,40,45,50,55,60,65,70,75,80,85,90,95,100], "format": "d",
        "tickSize": {"condition": {"test": "datum.value % 20 === 0", "value": -6}, "value": -3},
        "labelExpr": "datum.value % 20 === 0 ? datum.label : ''", "labelPadding": 4, "titlePadding": 10}},
     "detail": {"field": "p", "type": "nominal"},
     "order": {"field": "a", "type": "quantitative"}}},
   {"mark": {"type": "line", "strokeOpacity": 0},
    "encoding": {
     "x": {"field": "d", "type": "quantitative", "axis": {"orient": "top", "title": null, "labels": false, "values": [0.8,0.81,0.82,0.83,0.84,0.85,0.86,0.87,0.88,0.89,0.9,0.91,0.92,0.93,0.94,0.95,0.96,0.97,0.98,0.99,1.0,1.01,1.02,1.03,1.04,1.05,1.06,1.07,1.08,1.09,1.1,1.11,1.12,1.13,1.14,1.15,1.16,1.17,1.18,1.19,1.2],
        "tickSize": {"condition": {"test": "round(datum.value * 100) % 10 === 0", "value": -6}, "value": -3}}},
     "y": {"field": "a", "type": "quantitative", "axis": {"orient": "right", "title": null, "labels": false, "values": [0,5,10,15,20,25,30,35,40,45,50,55,60,65,70,75,80,85,90,95,100],
        "tickSize": {"condition": {"test": "datum.value % 20 === 0", "value": -6}, "value": -3}}},
     "detail": {"field": "p", "type": "nominal"},
     "order": {"field": "a", "type": "quantitative"}}}
  ],
  "resolve": {"axis": {"x": "independent", "y": "independent"}}}
]
}
